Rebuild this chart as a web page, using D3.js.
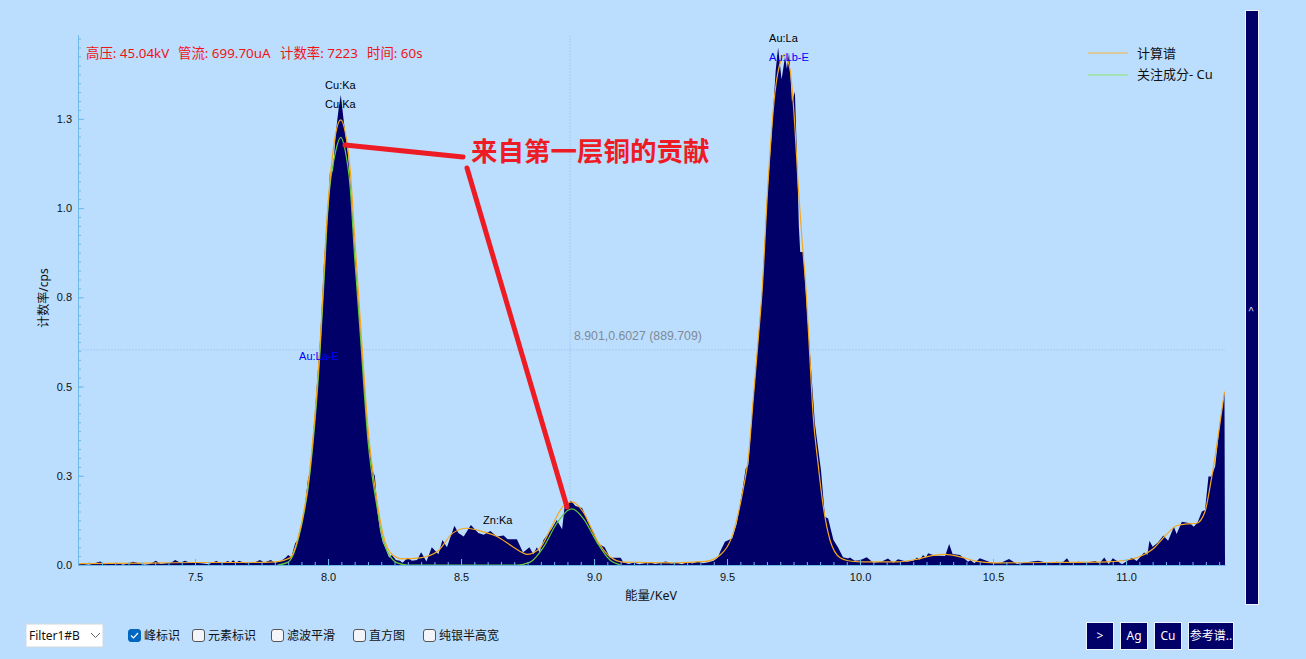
<!DOCTYPE html>
<html><head><meta charset="utf-8">
<script src="https://cdn.jsdelivr.net/npm/d3@7"></script>
<style>
html,body{margin:0;padding:0;background:#bbdeff;overflow:hidden}
svg{display:block}
text{font-family:"Liberation Sans","Noto Sans CJK SC",sans-serif}
.cjk,.cjk text{font-family:"Noto Sans","Noto Sans CJK SC",sans-serif}
</style></head><body>
<svg id="c" width="1306" height="659"></svg>
<script>
const xMajor=[7.5,8,8.5,9,9.5,10,10.5,11];
const xLabels=["7.5","8.0","8.5","9.0","9.5","10.0","10.5","11.0"];
const yMajor=[0,0.25,0.5,0.75,1,1.25];
const yLabels=["0.0","0.3","0.5","0.8","1.0","1.3"];
const info=[["高压: 45.04kV",86],["管流: 699.70uA",178],["计数率: 7223",280],["时间: 60s",367]];
const peakLabels=[["Cu:Ka",7.989,1.334,"#000"],["Cu:Ka",7.989,1.281,"#000"],["Au:La",9.658,1.466,"#000"],["Au:Lb-E",9.658,1.413,"#00f"],["Au:La-E",7.891,0.575,"#00f"],["Zn:Ka",8.583,0.115,"#000"]];
const checks=[["峰标识",128,true],["元素标识",192,false],["滤波平滑",271,false],["直方图",353,false],["纯银半高宽",423,false]];
const buttons=[[">",1087,26],["Ag",1121,26],["Cu",1155,26],["参考谱..",1189,44]];
const spectrum=[[7.06,.002],[7.08,.003],[7.1,.001],[7.12,.004],[7.143,.01],[7.16,.002],[7.19,.004],[7.21,.005],[7.23,.001],[7.25,.005],[7.267,.009],[7.29,.005],[7.31,.001],[7.33,.003],[7.353,.012],[7.37,.003],[7.39,.005],[7.41,.006],[7.425,.014],[7.445,.006],[7.462,.012],[7.48,.006],[7.5,.006],[7.53,.004],[7.55,.002],[7.58,.011],[7.6,.004],[7.624,.011],[7.633,.006],[7.643,.013],[7.655,.006],[7.665,.012],[7.69,.005],[7.72,.006],[7.744,.014],[7.76,.007],[7.785,.014],[7.8,.006],[7.82,.01],[7.84,.02],[7.85,.028],[7.862,.022],[7.876,.06],[7.89,.075],[7.9,.11],[7.912,.16],[7.925,.243],[7.932,.258],[7.95,.42],[7.97,.63],[7.985,.85],[7.996,.97],[8.004,1.05],[8.007,1.1],[8.014,1.1],[8.019,1.107],[8.029,1.21],[8.04,1.28],[8.048,1.317],[8.06,1.238],[8.073,1.163],[8.083,1.08],[8.1,.88],[8.121,.66],[8.15,.36],[8.168,.262],[8.176,.25],[8.186,.15],[8.195,.098],[8.205,.065],[8.214,.05],[8.23,.02],[8.24,.028],[8.255,.014],[8.27,.012],[8.28,.006],[8.30,.02],[8.315,.012],[8.335,.014],[8.35,.036],[8.37,.01],[8.39,.05],[8.415,.03],[8.43,.07],[8.447,.05],[8.475,.11],[8.49,.09],[8.51,.08],[8.537,.112],[8.565,.09],[8.585,.085],[8.61,.095],[8.635,.08],[8.66,.083],[8.675,.072],[8.71,.072],[8.733,.035],[8.757,.05],[8.772,.03],[8.785,.05],[8.795,.035],[8.81,.07],[8.84,.1],[8.86,.126],[8.88,.1],[8.89,.168],[8.9,.168],[8.913,.18],[8.93,.165],[8.955,.16],[8.975,.125],[9.0,.09],[9.015,.06],[9.04,.05],[9.06,.02],[9.08,.02],[9.1,.02],[9.11,.008],[9.13,.003],[9.15,.006],[9.17,.002],[9.19,.005],[9.21,.008],[9.23,.003],[9.25,.006],[9.27,.01],[9.29,.004],[9.31,.006],[9.33,.002],[9.35,.008],[9.37,.004],[9.39,.01],[9.41,.005],[9.43,.008],[9.45,.012],[9.465,.02],[9.474,.037],[9.492,.065],[9.52,.075],[9.537,.117],[9.56,.22],[9.57,.27],[9.58,.28],[9.598,.46],[9.617,.63],[9.632,.77],[9.65,1.023],[9.668,1.21],[9.683,1.387],[9.692,1.45],[9.705,1.36],[9.718,1.424],[9.725,1.39],[9.733,1.435],[9.744,1.298],[9.755,1.326],[9.762,1.163],[9.77,.95],[9.775,.877],[9.786,.877],[9.8,.72],[9.83,.398],[9.853,.266],[9.868,.135],[9.88,.13],[9.9,.07],[9.917,.05],[9.936,.022],[9.955,.018],[9.962,.021],[9.98,.012],[10.0,.013],[10.025,.022],[10.05,.006],[10.08,.009],[10.105,.018],[10.125,.006],[10.143,.016],[10.176,.009],[10.2,.012],[10.214,.021],[10.225,.015],[10.237,.028],[10.247,.02],[10.256,.033],[10.282,.026],[10.32,.025],[10.335,.059],[10.348,.031],[10.376,.028],[10.406,.009],[10.415,.013],[10.43,.005],[10.45,.019],[10.475,.012],[10.5,.005],[10.53,.006],[10.56,.017],[10.59,.003],[10.64,.009],[10.67,.012],[10.7,.007],[10.72,.005],[10.74,.009],[10.76,.006],[10.778,.019],[10.79,.005],[10.82,.009],[10.85,.006],[10.884,.011],[10.9,.004],[10.918,.021],[10.935,.002],[10.95,.019],[10.985,.002],[11.022,.02],[11.04,.011],[11.068,.035],[11.08,.028],[11.088,.068],[11.1,.051],[11.12,.063],[11.14,.083],[11.158,.068],[11.18,.107],[11.19,.087],[11.21,.121],[11.24,.117],[11.255,.107],[11.27,.121],[11.285,.15],[11.297,.154],[11.31,.249],[11.32,.247],[11.335,.276],[11.353,.397],[11.37,.486],[11.372,0]];
const calc=[[7.06,.004],[7.3,.005],[7.5,.007],[7.7,.007],[7.8,.009],[7.857,.02],[7.887,.075],[7.932,.27],[7.97,.62],[7.996,.97],[8.029,1.21],[8.048,1.247],[8.064,1.215],[8.083,1.11],[8.1,.92],[8.12,.70],[8.15,.385],[8.184,.18],[8.207,.085],[8.24,.03],[8.28,.017],[8.346,.02],[8.41,.037],[8.47,.09],[8.52,.103],[8.584,.093],[8.635,.08],[8.697,.05],[8.75,.03],[8.797,.048],[8.847,.117],[8.884,.165],[8.917,.177],[8.959,.149],[9.011,.07],[9.06,.023],[9.11,.008],[9.3,.006],[9.42,.01],[9.474,.028],[9.523,.09],[9.56,.21],[9.58,.30],[9.598,.46],[9.617,.63],[9.632,.77],[9.654,1.07],[9.68,1.323],[9.703,1.415],[9.715,1.43],[9.737,1.387],[9.755,1.228],[9.767,1.07],[9.782,.91],[9.797,.77],[9.81,.60],[9.823,.425],[9.842,.285],[9.86,.173],[9.887,.07],[9.925,.02],[9.955,.012],[10.0,.009],[10.14,.009],[10.213,.016],[10.275,.027],[10.32,.03],[10.376,.023],[10.44,.01],[10.5,.006],[10.7,.007],[10.93,.009],[11.003,.014],[11.05,.023],[11.1,.044],[11.15,.084],[11.19,.11],[11.23,.115],[11.265,.117],[11.297,.15],[11.316,.22],[11.335,.304],[11.353,.397],[11.37,.486]];
const cuPart=[[7.81,0],[7.85,.008],[7.887,.07],[7.932,.258],[7.97,.60],[7.989,.855],[7.996,.958],[8.029,1.16],[8.048,1.198],[8.064,1.163],[8.083,1.06],[8.1,.863],[8.12,.659],[8.15,.35],[8.184,.163],[8.207,.07],[8.26,.006],[8.3,0],[8.71,0],[8.76,.008],[8.81,.05],[8.86,.117],[8.917,.157],[8.96,.13],[9.01,.065],[9.06,.014],[9.10,0]];
const legendItems=[["计算谱","#e3c27f",53,58],["关注成分- Cu","#9de29a",75,79]];
const crossE=8.91, crossV=.6027;

const svg=d3.select("#c");
const x=d3.scaleLinear().domain([7.06,11.372]).range([78,1225]);
const y=d3.scaleLinear().domain([0,1.485]).range([565,35]);
const axisCol="#6fb9e8";

// crosshair
svg.append("line").attr("x1",x(crossE)).attr("x2",x(crossE)).attr("y1",35).attr("y2",565).attr("stroke","#a5cbee").attr("stroke-dasharray","2,1");
svg.append("line").attr("x1",78).attr("x2",1225).attr("y1",y(crossV)).attr("y2",y(crossV)).attr("stroke","#a5cbee").attr("stroke-dasharray","2,1");
svg.append("text").attr("x",574).attr("y",340).attr("font-size",12.3).attr("fill","#7f8a96").text("8.901,0.6027 (889.709)");

// marks
svg.append("path").datum(spectrum).attr("fill","#000068").attr("d",d3.area().x(d=>x(d[0])).y0(y(0)).y1(d=>y(d[1])));
svg.append("path").datum(cuPart).attr("fill","none").attr("stroke","#63c83c").attr("stroke-width",1.2).attr("d",d3.line().curve(d3.curveMonotoneX).x(d=>x(d[0])).y(d=>y(d[1])));
svg.append("path").datum(calc).attr("fill","none").attr("stroke","#f5a81c").attr("stroke-width",1.2).attr("d",d3.line().curve(d3.curveMonotoneX).x(d=>x(d[0])).y(d=>y(d[1])));

// axes
const minorX=d3.range(7.1,11.36,.05).map(v=>+v.toFixed(2));
const minorY=d3.range(0,1.485,.025).map(v=>+v.toFixed(3));
function style(g){g.selectAll("path,line").attr("stroke",axisCol);g.selectAll("text").attr("fill","#111").attr("font-size",11);}
svg.append("g").attr("transform","translate(0,565)").call(d3.axisBottom(x).tickValues(minorX).tickFormat("").tickSize(-3).tickSizeOuter(0)).call(style);
svg.append("g").attr("transform","translate(0,565)").call(d3.axisBottom(x).tickValues(xMajor).tickFormat((d,i)=>xLabels[i]).tickSize(-6).tickSizeOuter(0).tickPadding(8)).call(style);
svg.append("g").attr("transform","translate(78,0)").call(d3.axisRight(y).tickValues(minorY).tickFormat("").tickSize(3).tickSizeOuter(0)).call(style);
svg.append("g").attr("transform","translate(78,0)").call(d3.axisLeft(y).tickValues(yMajor).tickFormat((d,i)=>yLabels[i]).tickSize(-6).tickSizeOuter(0).tickPadding(6)).call(style);
svg.append("text").attr("class","cjk").attr("x",651).attr("y",600).attr("text-anchor","middle").attr("font-size",12.5).attr("fill","#111").text("能量/KeV");
svg.append("text").attr("class","cjk").attr("transform","translate(48,298) rotate(-90)").attr("text-anchor","middle").attr("font-size",12).attr("fill","#111").text("计数率/cps");

// peak labels
svg.selectAll(".pk").data(peakLabels).join("text").attr("class","pk").attr("x",d=>x(d[1])).attr("y",d=>y(d[2])).attr("font-size",11).attr("fill",d=>d[3]).text(d=>d[0]);

// info
svg.append("g").attr("class","cjk").selectAll("text").data(info).join("text").attr("x",d=>d[1]).attr("y",58).attr("font-size",13.4).attr("fill","#f01414").text(d=>d[0]);

// annotation
svg.append("line").attr("x1",345).attr("y1",145).attr("x2",463).attr("y2",157).attr("stroke","#ed1c24").attr("stroke-width",5).attr("stroke-linecap","round");
svg.append("line").attr("x1",467).attr("y1",168).attr("x2",567).attr("y2",507).attr("stroke","#ed1c24").attr("stroke-width",5).attr("stroke-linecap","round");
svg.append("text").attr("x",471).attr("y",161).attr("font-family","Noto Sans CJK SC").attr("font-weight",700).attr("font-size",26.5).attr("fill","#ed1c24").text("来自第一层铜的贡献");

// legend
const lg=svg.append("g").attr("class","cjk");
legendItems.forEach(d=>{
 lg.append("line").attr("x1",1088).attr("x2",1128).attr("y1",d[2]).attr("y2",d[2]).attr("stroke",d[1]).attr("stroke-width",1.5);
 lg.append("text").attr("x",1137).attr("y",d[3]).attr("font-size",13).attr("fill","#111").text(d[0]);
});

// side bar
svg.append("rect").attr("x",1245.5).attr("y",10.5).attr("width",13).attr("height",594).attr("fill","#000068").attr("stroke","#eef4fb");
svg.append("text").attr("transform","translate(1251,309) rotate(90)").attr("text-anchor","middle").attr("dy",3).attr("font-size",9).attr("fill","#fff").text("<");

// controls
svg.append("rect").attr("x",26).attr("y",624).attr("width",77).attr("height",23).attr("fill","#fff").attr("stroke","#d0d7de");
const ctl=svg.append("g").attr("class","cjk");
ctl.append("text").attr("x",29).attr("y",640).attr("font-size",12).attr("fill","#111").text("Filter1#B");
ctl.append("path").attr("d","M91 633l4.5 4.5 4.5-4.5").attr("fill","none").attr("stroke","#666");
checks.forEach(d=>{
 ctl.append("rect").attr("x",d[1]+.5).attr("y",629.5).attr("width",12).attr("height",12).attr("rx",2.5).attr("fill",d[2]?"#0067c0":"#f3f5f8").attr("stroke",d[2]?"#0067c0":"#555");
 if(d[2])ctl.append("path").attr("d",`M${d[1]+3} 635.5l2.5 2.5 4.5-5`).attr("fill","none").attr("stroke","#fff").attr("stroke-width",1.2);
 ctl.append("text").attr("x",d[1]+16).attr("y",640).attr("font-size",12).attr("fill","#111").text(d[0]);
});
buttons.forEach(d=>{
 ctl.append("rect").attr("x",d[1]-.5).attr("y",622.5).attr("width",d[2]+1).attr("height",27).attr("fill","#000068").attr("stroke","#eef4fb");
 ctl.append("text").attr("x",d[1]+d[2]/2).attr("y",640).attr("text-anchor","middle").attr("font-size",12).attr("fill","#fff").text(d[0]);
});
</script></body></html>
